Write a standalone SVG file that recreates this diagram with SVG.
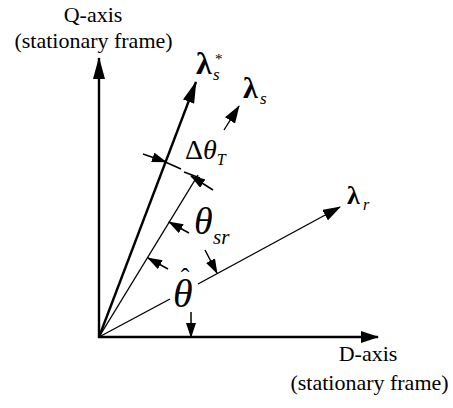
<svg xmlns="http://www.w3.org/2000/svg" width="453" height="408" viewBox="0 0 453 408">
<defs>
<marker id="big" viewBox="0 0 22 12" markerWidth="22" markerHeight="12" refX="21" refY="6" orient="auto" markerUnits="userSpaceOnUse">
<path d="M0,0 L22,6 L0,12 Z" fill="#000"/>
</marker>
<marker id="med" viewBox="0 0 18 12" markerWidth="18" markerHeight="12" refX="17" refY="6" orient="auto" markerUnits="userSpaceOnUse">
<path d="M0,0 L18,6 L0,12 Z" fill="#000"/>
</marker>
<marker id="small" viewBox="0 0 15 10" markerWidth="15" markerHeight="10" refX="14" refY="5" orient="auto" markerUnits="userSpaceOnUse">
<path d="M0,0 L15,5 L0,10 Z" fill="#000"/>
</marker>
</defs>
<style>
.ax{stroke:#000;stroke-width:2.4;fill:none}
.thick{stroke:#000;stroke-width:2.4;fill:none}
.thin{stroke:#000;stroke-width:1.4;fill:none}
.dim{stroke:#000;stroke-width:1.5;fill:none}
text{font-family:"Liberation Serif","Times New Roman",serif;fill:#000}
.lbl{font-size:22px}
.vec{font-weight:bold}
.it{font-style:italic}
</style>
<rect width="453" height="408" fill="#fff"/>
<g id="connectors">
<line id="q-axis" class="ax" x1="99" y1="338" x2="99" y2="58" marker-end="url(#big)"/>
<line id="d-axis" class="ax" x1="98" y1="337" x2="378" y2="337" marker-end="url(#med)"/>
<line id="lambda-s-star" class="thick" x1="99" y1="337" x2="196" y2="82" marker-end="url(#big)"/>
<line class="thin" x1="99" y1="337" x2="198" y2="175"/>
<line id="lambda-s" class="thin" x1="224" y1="130" x2="239" y2="106" marker-end="url(#med)"/>
<line class="thin" x1="99" y1="337" x2="170" y2="299"/>
<line id="lambda-r" class="thin" x1="198" y1="284" x2="340" y2="207" marker-end="url(#med)"/>
<line class="dim" x1="163" y1="161" x2="181" y2="169"/>
<line class="dim" x1="184" y1="172" x2="200" y2="178"/>
<line class="dim" x1="143" y1="154" x2="166" y2="162" marker-end="url(#small)"/>
<line class="dim" x1="213" y1="190" x2="191" y2="176" marker-end="url(#small)"/>
<line class="dim" x1="189" y1="233" x2="169" y2="222" marker-end="url(#small)"/>
<line class="dim" x1="205" y1="250" x2="217" y2="273" marker-end="url(#small)"/>
<line class="dim" x1="168" y1="269" x2="148" y2="258" marker-end="url(#small)"/>
<line class="dim" x1="191" y1="312" x2="191" y2="337" marker-end="url(#small)"/>
</g>
<g id="q-axis-label">
<text class="lbl" x="93" y="22" text-anchor="middle">Q-axis</text>
<text class="lbl" x="93.5" y="48" text-anchor="middle">(stationary frame)</text>
</g>
<g id="d-axis-label">
<text class="lbl" x="368" y="361" text-anchor="middle">D-axis</text>
<text class="lbl" x="369.5" y="390" text-anchor="middle">(stationary frame)</text>
</g>
<g id="lambda-s-star-label">
<text class="vec" x="196" y="74" font-size="32">λ</text>
<text class="it" x="213" y="80" font-size="17">s</text>
<text x="215" y="64" font-size="15">*</text>
</g>
<g id="lambda-s-label">
<text class="vec" x="243" y="98" font-size="30">λ</text>
<text class="it" x="260" y="104" font-size="17">s</text>
</g>
<g id="lambda-r-label">
<text class="vec" x="347" y="204" font-size="26">λ</text>
<text class="it" x="363" y="210" font-size="16">r</text>
</g>
<g id="delta-theta-t-label">
<text x="185" y="159" font-size="28">Δ<tspan class="it">θ</tspan><tspan class="it" font-size="16" dy="6">T</tspan></text>
</g>
<g id="theta-sr-label">
<text class="it" x="194" y="234" font-size="38">θ</text>
<text class="it" x="213" y="244" font-size="21">sr</text>
</g>
<g id="theta-hat-label">
<text x="173" y="307" font-size="40"><tspan class="it">θ</tspan><tspan font-size="26" dx="-12" dy="-21">ˆ</tspan></text>
</g>
</svg>
